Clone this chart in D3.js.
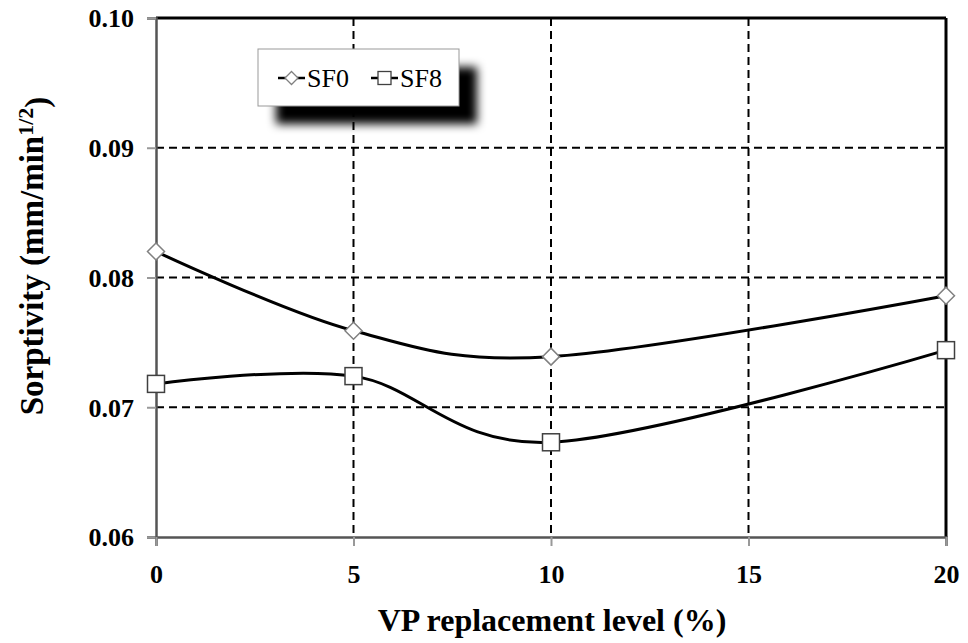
<!DOCTYPE html>
<html>
<head>
<meta charset="utf-8">
<script src="https://cdn.jsdelivr.net/npm/d3@7"></script>
<style>
  html, body { margin: 0; padding: 0; background: #fff; }
  svg { display: block; }
  svg text { font-family: 'Liberation Serif', Tinos, 'Times New Roman', Times, serif; }
</style>
</head>
<body>
<svg id="chart" width="968" height="643"></svg>
<script>
// Replacement levels (%) and sorptivity values for each mix
const levels = [0, 5, 10, 20];
const sf0 = [0.0820, 0.0759, 0.0739, 0.0786];
const sf8 = [0.0718, 0.0724, 0.0673, 0.0744];
const xTicks = [0, 5, 10, 15, 20];
const yTicks = [0.06, 0.07, 0.08, 0.09, 0.10];
const seriesNames = ["SF0", "SF8"];

const FONT = "'Liberation Serif', Tinos, 'Times New Roman', Times, serif";

const svg = d3.select("#chart");
const plot = { left: 156, right: 946, top: 18, bottom: 537 };

const x = d3.scaleLinear().domain([0, 20]).range([plot.left, plot.right]);
const y = d3.scaleLinear().domain([0.06, 0.10]).range([plot.bottom, plot.top]);

// Drop shadow for the legend box
const defs = svg.append("defs");
const f = defs.append("filter").attr("id", "legendShadow")
  .attr("x", "-20%").attr("y", "-40%").attr("width", "140%").attr("height", "180%");
f.append("feGaussianBlur").attr("stdDeviation", 5);

// Dashed gridlines
const grid = svg.append("g");
grid.selectAll("line.h").data(yTicks.filter(v => v > 0.06 && v < 0.10)).join("line")
  .attr("x1", plot.left).attr("x2", plot.right)
  .attr("y1", d => y(d)).attr("y2", d => y(d))
  .attr("stroke", "#000").attr("stroke-width", 2).attr("stroke-dasharray", "8,5");
grid.selectAll("line.v").data(xTicks.filter(v => v > 0 && v < 20)).join("line")
  .attr("y1", plot.top).attr("y2", plot.bottom)
  .attr("x1", d => x(d)).attr("x2", d => x(d))
  .attr("stroke", "#000").attr("stroke-width", 2).attr("stroke-dasharray", "8,5");

// Frame: black top/right, grey axis lines left/bottom
svg.append("line").attr("x1", plot.left).attr("x2", plot.right)
  .attr("y1", plot.top).attr("y2", plot.top).attr("stroke", "#000").attr("stroke-width", 3);
svg.append("line").attr("x1", plot.right).attr("x2", plot.right)
  .attr("y1", plot.top).attr("y2", plot.bottom).attr("stroke", "#000").attr("stroke-width", 3);

// Axes via d3
const yAxis = d3.axisLeft(y).tickValues(yTicks).tickFormat(d3.format(".2f")).tickSize(9).tickPadding(13);
const xAxis = d3.axisBottom(x).tickValues(xTicks).tickFormat(d3.format("d")).tickSize(9).tickPadding(19);

const gy = svg.append("g").attr("transform", `translate(${plot.left},0)`).call(yAxis);
const gx = svg.append("g").attr("transform", `translate(0,${plot.bottom})`).call(xAxis);
[gx, gy].forEach(g => {
  g.attr("font-family", null).attr("font-size", null);
  g.select(".domain").attr("stroke", "#555").attr("stroke-width", 2.5);
  g.selectAll(".tick line").attr("stroke", "#999").attr("stroke-width", 2);
  g.selectAll(".tick text").attr("fill", "#000")
    .style("font-family", FONT)
    .style("font-weight", "bold").style("font-size", "26px");
});
gy.selectAll(".tick text").attr("dy", "0.34em");
gx.selectAll(".tick text").attr("dy", "0.71em");

// Smoothed series lines
const line = d3.line().x(d => x(d[0])).y(d => y(d[1])).curve(d3.curveCardinal.tension(0));
const data0 = levels.map((l, i) => [l, sf0[i]]);
const data8 = levels.map((l, i) => [l, sf8[i]]);
[data0, data8].forEach(d => {
  svg.append("path").datum(d).attr("d", line)
    .attr("fill", "none").attr("stroke", "#000").attr("stroke-width", 3);
});

// Markers
const diamond = (s) => `M0,${-s}L${s},0L0,${s}L${-s},0Z`;
svg.append("g").selectAll("path").data(data0).join("path")
  .attr("transform", d => `translate(${x(d[0])},${y(d[1])})`)
  .attr("d", diamond(8.5))
  .attr("fill", "#fff").attr("stroke", "#808080").attr("stroke-width", 1.5);
svg.append("g").selectAll("rect").data(data8).join("rect")
  .attr("x", d => x(d[0]) - 8.5).attr("y", d => y(d[1]) - 8.5)
  .attr("width", 17).attr("height", 17)
  .attr("fill", "#fff").attr("stroke", "#404040").attr("stroke-width", 1.5);

// Legend
const lg = svg.append("g");
const lb = { x: 258, y: 49, w: 201, h: 57 };
lg.append("rect").attr("x", lb.x + 18).attr("y", lb.y + 18).attr("width", lb.w).attr("height", lb.h)
  .attr("fill", "#000").attr("filter", "url(#legendShadow)");
lg.append("rect").attr("x", lb.x).attr("y", lb.y).attr("width", lb.w).attr("height", lb.h)
  .attr("fill", "#fff").attr("stroke", "#999").attr("stroke-width", 1);
const ly = 78;
const items = [
  { name: seriesNames[0], x0: 278, shape: "diamond" },
  { name: seriesNames[1], x0: 371, shape: "square" }
];
items.forEach(it => {
  lg.append("line").attr("x1", it.x0).attr("x2", it.x0 + 27).attr("y1", ly).attr("y2", ly)
    .attr("stroke", "#000").attr("stroke-width", 2.5);
  if (it.shape === "diamond") {
    lg.append("path").attr("transform", `translate(${it.x0 + 13.5},${ly})`).attr("d", diamond(6.5))
      .attr("fill", "#fff").attr("stroke", "#808080").attr("stroke-width", 1.3);
  } else {
    lg.append("rect").attr("x", it.x0 + 13.5 - 6.5).attr("y", ly - 6.5).attr("width", 13).attr("height", 13)
      .attr("fill", "#fff").attr("stroke", "#404040").attr("stroke-width", 1.3);
  }
  lg.append("text").attr("x", it.x0 + 29).attr("y", ly).attr("dy", "0.35em")
    .style("font-family", FONT).style("font-size", "26px").attr("fill", "#000").text(it.name);
});

// Axis titles
svg.append("text").attr("x", (plot.left + plot.right) / 2 + 1).attr("y", 631)
  .attr("text-anchor", "middle").style("font-family", FONT).style("font-weight", "bold").style("font-size", "32px")
  .attr("fill", "#000").text("VP replacement level (%)");

const yt = svg.append("text").attr("transform", "translate(43,256) rotate(-90)")
  .attr("text-anchor", "middle").style("font-family", FONT).style("font-weight", "bold").style("font-size", "33px").attr("fill", "#000");
yt.append("tspan").text("Sorptivity (mm/min");
yt.append("tspan").attr("dy", "-0.45em").style("font-size", "22px").text("1/2");
yt.append("tspan").attr("dy", "0.45em").text(")");
</script>
</body>
</html>
